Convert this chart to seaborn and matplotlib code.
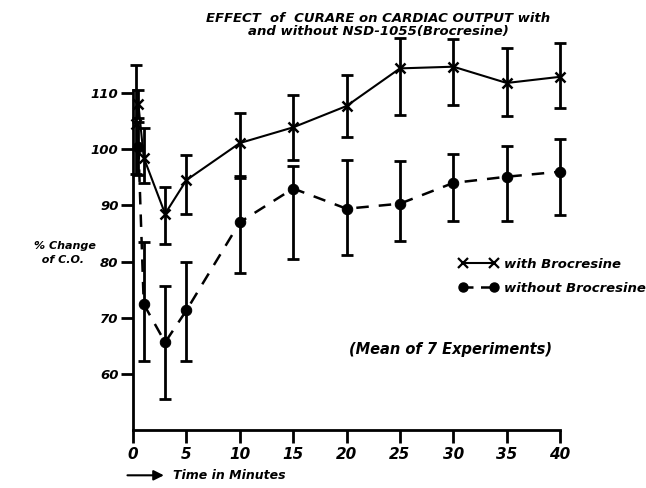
import matplotlib
matplotlib.use("Agg")
import matplotlib.pyplot as plt
import seaborn as sns
import pandas as pd
from matplotlib.lines import Line2D

# ---- data ----
time_with = [0.25, 0.5, 1, 3, 5, 10, 15, 20, 25, 30, 35, 40]
with_vals = [104.5, 108.0, 98.5, 88.5, 94.5, 101.1, 103.9, 107.7, 114.4, 114.7, 111.8, 112.9]
with_err_lo = [9.0, 2.5, 4.5, 5.3, 6.0, 5.9, 5.9, 5.6, 8.3, 6.8, 5.9, 5.6]
with_err_hi = [10.5, 2.5, 5.3, 4.8, 4.4, 5.3, 5.7, 5.5, 5.4, 4.9, 6.2, 6.1]

time_without = [0.5, 1, 3, 5, 10, 15, 20, 25, 30, 35, 40]
without_vals = [100.4, 72.4, 65.6, 71.3, 87.0, 93.0, 89.4, 90.3, 94.0, 95.1, 96.0]
without_err_lo = [5.0, 10.1, 10.1, 9.1, 9.1, 12.5, 8.3, 6.7, 6.7, 7.8, 7.8]
without_err_hi = [4.5, 11.1, 10.1, 8.6, 7.8, 4.1, 8.6, 7.6, 5.2, 5.4, 5.9]

x_ticks = [0, 5, 10, 15, 20, 25, 30, 35, 40]
y_ticks = [60, 70, 80, 90, 100, 110]

title = "EFFECT  of  CURARE on CARDIAC OUTPUT with\nand without NSD-1055(Brocresine)"
legend_labels = ["with Brocresine", "without Brocresine"]

# ---- style ----
sns.set_style("ticks")
plt.rcParams["font.family"] = ["DejaVu Sans"]
plt.rcParams["text.color"] = "black"
plt.rcParams["xtick.color"] = "black"
plt.rcParams["ytick.color"] = "black"
plt.rcParams["axes.edgecolor"] = "black"
FONT = dict(fontweight="bold", fontstyle="italic")

fig = plt.figure(figsize=(6.46, 4.88), dpi=100)
ax = fig.add_axes([0.206, 0.119, 0.661, 0.8168])

df_w = pd.DataFrame({"t": time_with, "v": with_vals})
df_o = pd.DataFrame({"t": time_without, "v": without_vals})

sns.lineplot(data=df_w, x="t", y="v", ax=ax, color="black", lw=1.5,
             marker="x", markersize=7, markeredgewidth=1.8,
             markeredgecolor="black", clip_on=False)
sns.lineplot(data=df_o, x="t", y="v", ax=ax, color="black", lw=1.8,
             linestyle=(0, (5, 4)), marker="o", markersize=7.5,
             markeredgecolor="black", clip_on=False)

ax.errorbar(time_with, with_vals, yerr=[with_err_lo, with_err_hi], fmt="none",
            ecolor="black", elinewidth=2, capsize=4, capthick=2, clip_on=False)
ax.errorbar(time_without, without_vals, yerr=[without_err_lo, without_err_hi], fmt="none",
            ecolor="black", elinewidth=2, capsize=4, capthick=2, clip_on=False)

ax.set_xlim(0, 40)
ax.set_ylim(50, 121)
ax.set_xticks(x_ticks)
ax.set_yticks(y_ticks)
ax.set_xticklabels([str(v) for v in x_ticks], fontsize=11, color="black", **FONT)
ax.set_yticklabels([str(v) for v in y_ticks], fontsize=9.5, color="black", **FONT)
ax.tick_params(axis="both", direction="out", length=9, width=2, color="black")
ax.tick_params(axis="y", pad=1.5)
ax.tick_params(axis="x", pad=3)
for s in ["top", "right"]:
    ax.spines[s].set_visible(False)
for s in ["left", "bottom"]:
    ax.spines[s].set_linewidth(2)
    ax.spines[s].set_color("black")
ax.spines["left"].set_bounds(50, 110.5)
ax.set_xlabel("")
ax.set_ylabel("")

# title
fig.text(0.585, 0.975, title, ha="center", va="top", fontsize=9.5,
         linespacing=0.95, color="black", **FONT)

# y label
fig.text(0.052, 0.482, "% Change\n  of C.O.", ha="left", va="center",
         fontsize=8, linespacing=1.45, color="black", **FONT)

# legend
handles = [
    Line2D([0], [0], color="black", lw=1.5, marker="x", markersize=7, markeredgewidth=1.6),
    Line2D([0], [0], color="black", lw=1.8, linestyle=(0, (4, 3)), marker="o", markersize=6.5),
]
leg = ax.legend(handles, legend_labels, loc="upper left", bbox_to_anchor=(0.735, 0.462),
                frameon=False, numpoints=2, handlelength=3.0, handletextpad=0.4,
                labelspacing=0.85, prop=dict(weight="bold", style="italic", size=9.5))
for t in leg.get_texts():
    t.set_color("black")

# mean note
fig.text(0.697, 0.283, "(Mean of 7 Experiments)", ha="center", va="center",
         fontsize=10.5, color="black", **FONT)

# time arrow + label
fig.add_artist(matplotlib.patches.FancyArrowPatch(
    (0.193, 0.026), (0.258, 0.026), transform=fig.transFigure,
    arrowstyle="-|>,head_length=6,head_width=3", color="black", lw=1.5, mutation_scale=1))
fig.text(0.268, 0.026, "Time in Minutes", ha="left", va="center", fontsize=9,
         color="black", **FONT)

fig.savefig("out.png", dpi=100)
